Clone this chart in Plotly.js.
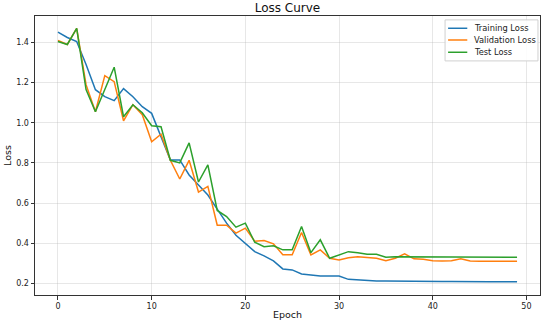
<!DOCTYPE html>
<html>
<head>
<meta charset="utf-8">
<script src="https://cdn.plot.ly/plotly-3.0.1.min.js"></script>
<style>html,body{margin:0;padding:0;background:#fff;}#chart{width:550px;height:326px;}</style>
</head>
<body>
<div id="chart"></div>
<script>
const epochs = Array.from({length: 50}, (_, i) => i);
const trainLoss = [1.452, 1.425, 1.405, 1.29, 1.165, 1.13, 1.11, 1.17, 1.13, 1.08,
  1.047, 0.93, 0.815, 0.815, 0.74, 0.69, 0.64, 0.57, 0.50, 0.44,
  0.40, 0.358, 0.337, 0.312, 0.272, 0.267, 0.247, 0.242, 0.237, 0.237,
  0.237, 0.22, 0.217, 0.213, 0.212, 0.212, 0.211, 0.211, 0.210, 0.210,
  0.209, 0.209, 0.209, 0.208, 0.208, 0.208, 0.208, 0.208, 0.208, 0.208];
const valLoss = [1.41, 1.39, 1.47, 1.19, 1.055, 1.235, 1.205, 1.01, 1.09, 1.04,
  0.905, 0.943, 0.813, 0.72, 0.813, 0.655, 0.683, 0.49, 0.49, 0.45,
  0.475, 0.41, 0.413, 0.397, 0.342, 0.342, 0.453, 0.342, 0.367, 0.325,
  0.317, 0.328, 0.333, 0.33, 0.325, 0.313, 0.325, 0.347, 0.322, 0.32,
  0.313, 0.312, 0.313, 0.322, 0.312, 0.31, 0.31, 0.31, 0.31, 0.31];
const testLoss = [1.405, 1.39, 1.47, 1.165, 1.055, 1.165, 1.277, 1.03, 1.09, 1.05,
  0.985, 0.98, 0.813, 0.80, 0.9, 0.705, 0.79, 0.563, 0.533, 0.48,
  0.5, 0.405, 0.383, 0.387, 0.367, 0.367, 0.483, 0.353, 0.417, 0.325,
  0.342, 0.358, 0.353, 0.345, 0.345, 0.33, 0.333, 0.333, 0.333, 0.332,
  0.332, 0.332, 0.332, 0.331, 0.331, 0.331, 0.33, 0.33, 0.33, 0.33];
const seriesNames = ['Training Loss', 'Validation Loss', 'Test Loss'];
const seriesColors = ['#1f77b4', '#ff7f0e', '#2ca02c'];
const xTicks = [0, 10, 20, 30, 40, 50];
const yTicks = [0.2, 0.4, 0.6, 0.8, 1.0, 1.2, 1.4];

const data = [trainLoss, valLoss, testLoss].map((ys, k) => ({
  x: epochs, y: ys, type: 'scatter', mode: 'lines', name: seriesNames[k],
  line: {color: seriesColors[k], width: 1.5}, showlegend: false
}));

const axisCommon = {
  showline: true, mirror: true, linecolor: '#333', linewidth: 1,
  ticks: 'outside', ticklen: 3.5, tickcolor: '#333', tickwidth: 1,
  showgrid: true, gridcolor: 'rgba(176,176,176,0.3)', gridwidth: 1,
  zeroline: false, tickfont: {family: 'DejaVu Sans', size: 8, color: '#222'}
};

// legend drawn in the paper frame (matplotlib-style compact box)
const legX0 = 0.812, legX1 = 0.996, legYTop = 0.986, legYBot = 0.839;
const legRows = [0.956, 0.914, 0.870];
const shapes = [{type: 'rect', xref: 'paper', yref: 'paper', x0: legX0, x1: legX1, y0: legYBot, y1: legYTop,
  line: {color: '#d0d0d0', width: 1}, fillcolor: 'rgba(255,255,255,0.85)', layer: 'above'}];
const annotations = [];
seriesNames.forEach((n, k) => {
  shapes.push({type: 'line', xref: 'paper', yref: 'paper', x0: 0.818, x1: 0.856, y0: legRows[k], y1: legRows[k],
    line: {color: seriesColors[k], width: 1.5}, layer: 'above'});
  annotations.push({xref: 'paper', yref: 'paper', x: 0.866, y: legRows[k], xanchor: 'left', yanchor: 'middle',
    text: n, showarrow: false, font: {family: 'DejaVu Sans', size: 8.3, color: '#222'}});
});

const layout = {
  width: 550, height: 326,
  margin: {l: 35, r: 10, t: 16, b: 31},
  paper_bgcolor: '#fff', plot_bgcolor: '#fff',
  font: {family: 'DejaVu Sans', color: '#222'},
  title: {text: 'Loss Curve', font: {family: 'DejaVu Sans', size: 12, color: '#111'},
    x: 0.5, xref: 'paper', y: 1 - 8/326, yref: 'container', yanchor: 'middle'},
  xaxis: Object.assign({}, axisCommon, {
    range: [-2.45, 51.45], tickvals: xTicks,
    title: {text: 'Epoch', font: {family: 'DejaVu Sans', size: 9.5, color: '#111'}, standoff: 1}
  }),
  yaxis: Object.assign({}, axisCommon, {
    range: [0.142, 1.532], tickvals: yTicks, tickformat: '.1f',
    title: {text: 'Loss', font: {family: 'DejaVu Sans', size: 9.5, color: '#111'}, standoff: 2}
  }),
  shapes: shapes,
  annotations: annotations,
  showlegend: false
};

Plotly.newPlot('chart', data, layout, {displayModeBar: false, staticPlot: true});
</script>
</body>
</html>
